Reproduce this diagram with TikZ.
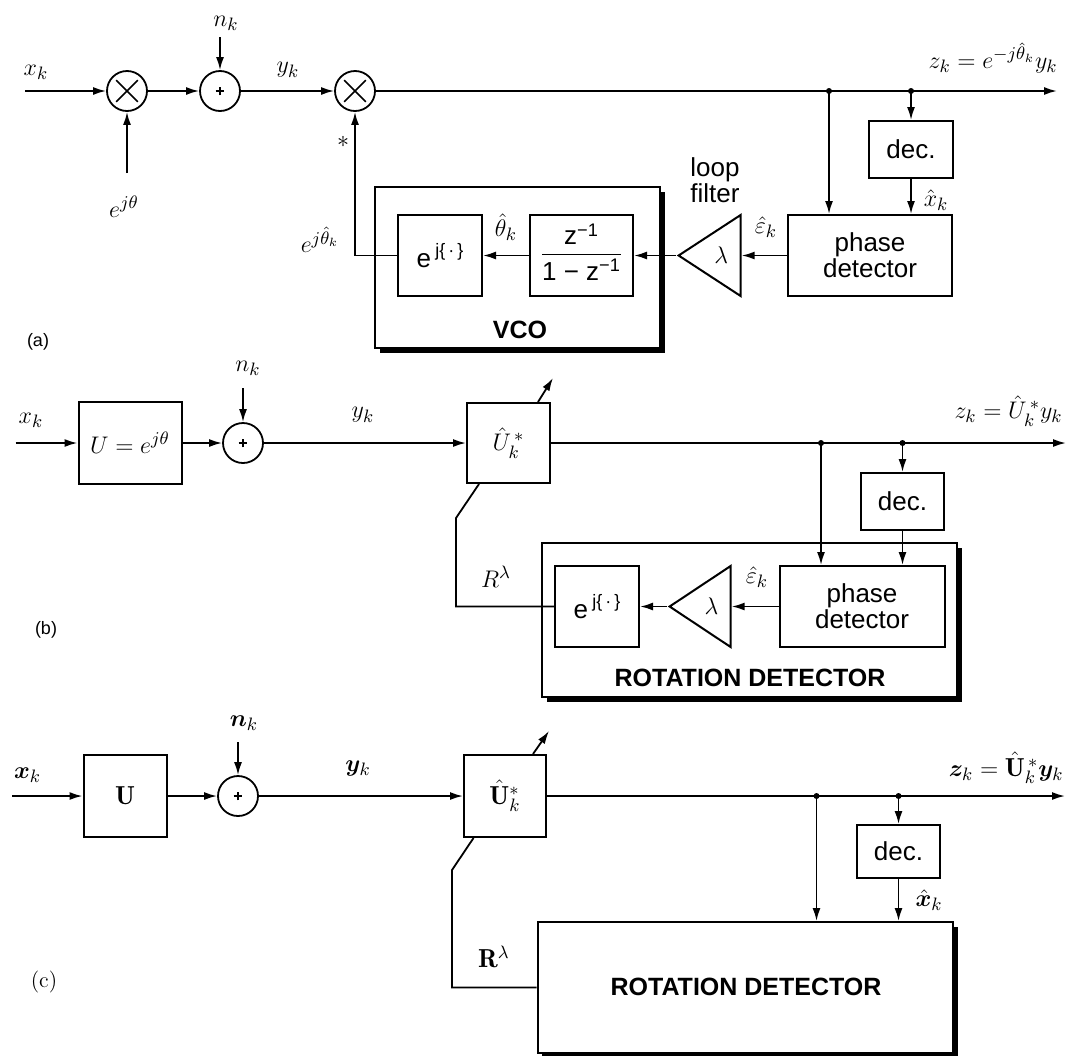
\documentclass[tikz,border=0pt]{standalone}
\usepackage{amsmath,bm}
\usepackage{fontspec}
\setsansfont{Liberation Sans}
\usetikzlibrary{arrows.meta,positioning,shapes.geometric,shadows,calc}

\newcommand\ejdot{e\,\raisebox{0.42em}{\fontsize{9}{9}\selectfont j\{\,·\,\}}}
\newcommand\zfrac{\begin{tabular}{@{}c@{}}z\textsuperscript{−1}\\[1pt]\hline\rule{0pt}{13pt}1 − z\textsuperscript{−1}\end{tabular}}

\begin{document}
\begin{tikzpicture}[x=0.5pt, y=-0.5pt,
  fbox/.style={rectangle, draw, line width=1pt, fill=white, inner sep=0pt,
               font=\sffamily\fontsize{13}{11.5}\selectfont, align=center},
  encbox/.style={rectangle, draw, line width=1pt, fill=white, inner sep=0pt,
               drop shadow={shadow xshift=2.4pt, shadow yshift=-2.4pt, opacity=1, fill=black}},
  mulnode/.style={circle, draw, line width=0.9pt, minimum size=20pt, inner sep=0pt, fill=white,
               path picture={\draw[line width=0.8pt] (path picture bounding box.center)
                 +(-5.4pt,-5.4pt) -- +(5.4pt,5.4pt) +(-5.4pt,5.4pt) -- +(5.4pt,-5.4pt);}},
  sumnode/.style={circle, draw, line width=0.9pt, minimum size=20pt, inner sep=0pt, fill=white,
               path picture={\draw[line width=0.6pt] (path picture bounding box.center)
                 +(-2.2pt,0) -- +(2.2pt,0) +(0,-2.2pt) -- +(0,2.2pt);}},
  gainnode/.style={isosceles triangle, isosceles triangle stretches, shape border rotate=180,
               draw, line width=1pt, fill=white, inner sep=0pt, anchor=apex,
               font=\fontsize{13}{14}\selectfont},
  tapdot/.style={circle, fill, inner sep=0pt, minimum size=3pt},
  arr/.style={-{Latex[length=6.5pt,width=4pt]}, line width=0.9pt},
  wire/.style={line width=0.9pt},
  mlbl/.style={font=\fontsize{13}{15}\selectfont, inner sep=1pt},
  tlbl/.style={font=\sffamily\fontsize{13}{11.5}\selectfont, align=center, inner sep=1pt},
  hlbl/.style={font=\sffamily\bfseries\fontsize{12.5}{14}\selectfont, inner sep=1pt},
  plbl/.style={font=\sffamily\fontsize{9}{10}\selectfont, inner sep=1pt}
]
\useasboundingbox (0,0) rectangle (1068,1055);

% ---------------- (a) phase locked loop
\node[encbox, minimum width=142.5pt, minimum height=80.5pt] (vco) at (517.5,267.5) {};
\node[hlbl] (vcolbl) at (520,330) {VCO};

\coordinate (ina) at (25,91);
\node[mlbl] (xka) at (36,72) {$x_k$};
\node[mulnode] (m1a) at (127,91) {};
\coordinate (thin) at (127,173);
\node[mlbl] (ejth) at (124,207) {$e^{j\theta}$};
\node[sumnode] (s1a) at (220,91) {};
\coordinate (nina) at (220,37);
\node[mlbl] (nka) at (226,23) {$n_k$};
\node[mlbl] (yka) at (288,70) {$y_k$};
\node[mulnode] (m2a) at (355,91) {};
\node[mlbl] (conja) at (343,142) {$*$};
\node[mlbl] (ejhat) at (320,240) {$e^{j\hat{\theta}_k}$};

\node[fbox, minimum width=42pt, minimum height=40.5pt] (expa) at (440,255.5) {\ejdot};
\node[mlbl] (tha) at (506,227) {$\hat{\theta}_k$};
\node[fbox, minimum width=51.5pt, minimum height=40.5pt] (filta) at (581.5,255.5) {\zfrac};
\node[gainnode, minimum width=40.5pt, minimum height=31pt] (lama) at (676,255.5) {$\lambda$};
\node[tlbl] (lfa) at (715,180) {loop\\filter};
\node[mlbl] (eka) at (766,227) {$\hat{\varepsilon}_k$};
\node[fbox, minimum width=82pt, minimum height=40.5pt] (pda) at (870,255.5) {phase\\detector};
\node[fbox, minimum width=42pt, minimum height=28.5pt] (deca) at (911,149.5) {dec.};
\node[mlbl] (xha) at (936,200) {$\hat{x}_k$};
\node[mlbl, anchor=east] (zka) at (1060,58) {$z_k = e^{-j\hat{\theta}_k}y_k$};
\coordinate (outa) at (1057,91);
\coordinate (t1a) at (829,91);
\coordinate (t2a) at (911,91);
\node[plbl] (lbla) at (38,342) {(a)};

\draw[arr] (ina) -- (m1a);
\draw[arr] (thin) -- (m1a);
\draw[arr] (m1a) -- (s1a);
\draw[arr] (nina) -- (s1a);
\draw[arr] (s1a) -- (m2a);
\draw[arr] (m2a) -- (outa);
\draw[arr] (t1a) -- (t1a |- pda.north);
\draw[arr] (t2a) -- (deca);
\draw[arr] (deca) -- (pda.north -| deca);
\draw[arr] (pda) -- (lama.lower side);
\draw[arr] (lama.apex) -- (filta);
\draw[arr] (filta) -- (expa);
\draw[arr] (expa.west) -| (m2a.south);
\node[tapdot] at (t1a) {};
\node[tapdot] at (t2a) {};

% ---------------- (b) rotation detector
\node[encbox, minimum width=207.5pt, minimum height=77pt] (rdb) at (749.5,620) {};
\node[hlbl] (rdlb) at (750,678) {ROTATION DETECTOR};

\coordinate (inb) at (15.5,443);
\node[mlbl] (xkb) at (31,420) {$x_k$};
\node[fbox, minimum width=51.5pt, minimum height=41pt, font=\fontsize{13}{15}\selectfont] (ub) at (130,443) {$U = e^{j\theta}$};
\node[sumnode] (s1b) at (243,443) {};
\coordinate (ninb) at (243,388);
\node[mlbl] (nkb) at (248,368) {$n_k$};
\node[mlbl] (ykb) at (363,415) {$y_k$};
\node[fbox, minimum width=41.5pt, minimum height=40pt, font=\fontsize{13}{15}\selectfont] (uhb) at (508.5,443) {$\hat{U}_k^{\,*}$};
\coordinate (fbb) at (456,518);
\node[mlbl] (rlb) at (496,577) {$R^{\lambda}$};

\node[fbox, minimum width=42pt, minimum height=40.5pt] (expb) at (597,606.5) {\ejdot};
\node[gainnode, minimum width=40.5pt, minimum height=30.5pt] (lamb) at (667,606.5) {$\lambda$};
\node[mlbl] (ekb) at (757,577) {$\hat{\varepsilon}_k$};
\node[fbox, minimum width=82.5pt, minimum height=40.5pt] (pdb) at (862,606.5) {phase\\detector};
\node[fbox, minimum width=41.75pt, minimum height=28.5pt] (decb) at (902.5,501.5) {dec.};
\node[mlbl, anchor=east] (zkb) at (1065,411) {$z_k = \hat{U}_k^{\,*}y_k$};
\coordinate (outb) at (1066,443);
\coordinate (t1b) at (821,443);
\coordinate (t2b) at (902.5,443);
\node[plbl] (lblb) at (46,630) {(b)};

\draw[arr] (inb) -- (ub);
\draw[arr] (ub) -- (s1b);
\draw[arr] (ninb) -- (s1b);
\draw[arr] (s1b) -- (uhb);
\draw[arr] (uhb) -- (outb);
\draw[arr] ($(uhb.north east)+(-13,0)$) -- ++(15,-24);
\draw[wire] ($(uhb.south west)+(13,0)$) -- (fbb) -- (fbb |- expb.west) -- (expb.west);
\draw[arr] (t1b) -- (t1b |- pdb.north);
\draw[arr] (t2b) -- (decb);
\draw[arr] (decb) -- (pdb.north -| decb);
\draw[arr] (pdb) -- (lamb.lower side);
\draw[arr] (lamb.apex) -- (expb);
\node[tapdot] at (t1b) {};
\node[tapdot] at (t2b) {};

% ---------------- (c) matrix case
\node[encbox, minimum width=207.75pt, minimum height=65.5pt] (rdc) at (745.25,987.5) {};
\node[hlbl] (rdlc) at (746,987) {ROTATION DETECTOR};

\coordinate (inc) at (12,796);
\node[mlbl] (xkc) at (27.5,775) {$\bm{x}_k$};
\node[fbox, minimum width=41.5pt, minimum height=41pt, font=\fontsize{13}{15}\selectfont] (uc) at (125,796) {$\mathbf{U}$};
\node[sumnode] (s1c) at (238,796) {};
\coordinate (ninc) at (238,742);
\node[mlbl] (nkc) at (244,723) {$\bm{n}_k$};
\node[mlbl] (ykc) at (358,768) {$\bm{y}_k$};
\node[fbox, minimum width=41pt, minimum height=41pt, font=\fontsize{13}{15}\selectfont] (uhc) at (505,796) {${\hat{\mathbf{U}}_k}^{*}$};
\coordinate (fbc) at (452,870);
\node[mlbl] (rlc) at (494,957) {$\mathbf{R}^{\lambda}$};

\node[fbox, minimum width=41.65pt, minimum height=26.5pt] (decc) at (898.5,851.5) {dec.};
\node[mlbl] (xhc) at (929,900) {$\hat{\bm{x}}_k$};
\node[mlbl, anchor=east] (zkc) at (1066,768) {$\bm{z}_k = \hat{\mathbf{U}}_k^{\,*}\bm{y}_k$};
\coordinate (outc) at (1065,796);
\coordinate (t1c) at (816.5,796);
\coordinate (t2c) at (898.5,796);
\node[mlbl, font=\fontsize{11}{12}\selectfont] (lblc) at (44,982) {(c)};

\draw[arr] (inc) -- (uc);
\draw[arr] (uc) -- (s1c);
\draw[arr] (ninc) -- (s1c);
\draw[arr] (s1c) -- (uhc);
\draw[arr] (uhc) -- (outc);
\draw[arr] ($(uhc.north east)+(-14,0)$) -- ++(16,-23);
\draw[wire] ($(uhc.south west)+(10.5,0)$) -- (fbc) -- (fbc |- rdc.west) -- (rdc.west);
\draw[arr] (t1c) -- (t1c |- rdc.north);
\draw[arr] (t2c) -- (decc);
\draw[arr] (decc) -- (rdc.north -| decc);
\node[tapdot] at (t1c) {};
\node[tapdot] at (t2c) {};
\end{tikzpicture}
\end{document}
